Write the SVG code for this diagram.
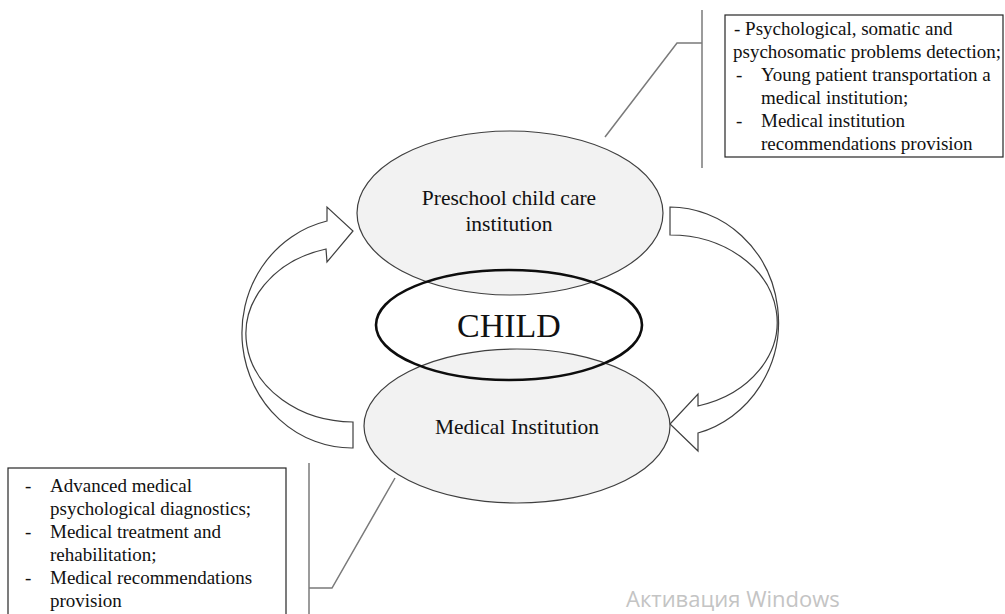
<svg xmlns="http://www.w3.org/2000/svg" width="1005" height="614" viewBox="0 0 1005 614">
  <style>
    .bg { fill: #ffffff; }
    .inst { fill: #f2f2f2; stroke: #3f3f3f; stroke-width: 1.2; }
    .core { fill: none; stroke: #0d0d0d; stroke-width: 2.6; }
    .arrow { fill: #ffffff; stroke: #3f3f3f; stroke-width: 1.2; stroke-linejoin: miter; }
    .note { fill: #ffffff; stroke: #262626; stroke-width: 1.2; }
    .lead { fill: none; stroke: #7a7a7a; stroke-width: 1.5; }
    .txt { font-family: "Liberation Serif", "Times New Roman", serif; fill: #111111; }
    .list { font-size: 19px; }
    .label { font-size: 21.5px; text-anchor: middle; }
    .big { font-size: 34px; text-anchor: middle; }
    .wm { font-family: "Open Sans", "Noto Sans", sans-serif; font-size: 22px; fill: #c4c4c4; }
  </style>

  <rect class="bg" x="0" y="0" width="1005" height="614"/>

  <!-- curved arrows between the two institutions -->
  <g id="connectors">
    <!-- medical institution back up to preschool institution (left side) -->
    <path id="arrow-left" class="arrow"
          d="M 353,448 A 110 115 0 0 1 327,221 L 327,207 L 353,231 L 327,262 L 326,249 A 108 88 0 0 0 353,422 Z"/>
    <!-- preschool institution down to medical institution (right side) -->
    <path id="arrow-right" class="arrow"
          d="M 670,207 A 109 115 0 0 1 698,433 L 698,451 L 670,424 L 698,394 L 698,406 A 107 87 0 0 0 670,235 Z"/>
    <!-- bracket leaders to the note boxes -->
    <polyline id="lead-top" class="lead" points="605,137 677,43 702,43"/>
    <line class="lead" x1="702" y1="10" x2="702" y2="168"/>
    <polyline id="lead-bottom" class="lead" points="395,478 332,588 309,588"/>
    <line class="lead" x1="309" y1="463" x2="309" y2="616"/>
  </g>

  <g id="preschool">
    <ellipse class="inst" cx="510" cy="213" rx="153" ry="82"/>
    <text class="txt label" x="509" y="205">Preschool child care</text>
    <text class="txt label" x="509" y="231">institution</text>
  </g>

  <g id="medical">
    <ellipse class="inst" cx="517" cy="426" rx="153" ry="77"/>
    <text class="txt label" x="517" y="434">Medical Institution</text>
  </g>

  <g id="child">
    <ellipse class="core" cx="509" cy="325" rx="133" ry="55"/>
    <text class="txt big" x="509" y="337">CHILD</text>
  </g>

  <g id="note-preschool">
    <rect class="note" x="725" y="15" width="278" height="142"/>
    <text class="txt list" x="734" y="35">- Psychological, somatic and</text>
    <text class="txt list" x="733" y="58">psychosomatic problems detection;</text>
    <text class="txt list" x="736" y="81">-</text>
    <text class="txt list" x="761" y="81">Young patient transportation a</text>
    <text class="txt list" x="761" y="104">medical institution;</text>
    <text class="txt list" x="736" y="127">-</text>
    <text class="txt list" x="761" y="127">Medical institution</text>
    <text class="txt list" x="761" y="150">recommendations provision</text>
  </g>

  <g id="note-medical">
    <rect class="note" x="8" y="468" width="278" height="150"/>
    <text class="txt list" x="25" y="492">-</text>
    <text class="txt list" x="50" y="492">Advanced medical</text>
    <text class="txt list" x="50" y="515">psychological diagnostics;</text>
    <text class="txt list" x="25" y="538">-</text>
    <text class="txt list" x="50" y="538">Medical treatment and</text>
    <text class="txt list" x="50" y="561">rehabilitation;</text>
    <text class="txt list" x="25" y="584">-</text>
    <text class="txt list" x="50" y="584">Medical recommendations</text>
    <text class="txt list" x="50" y="607">provision</text>
  </g>

  <text class="wm" x="626" y="607">Активация Windows</text>
</svg>
